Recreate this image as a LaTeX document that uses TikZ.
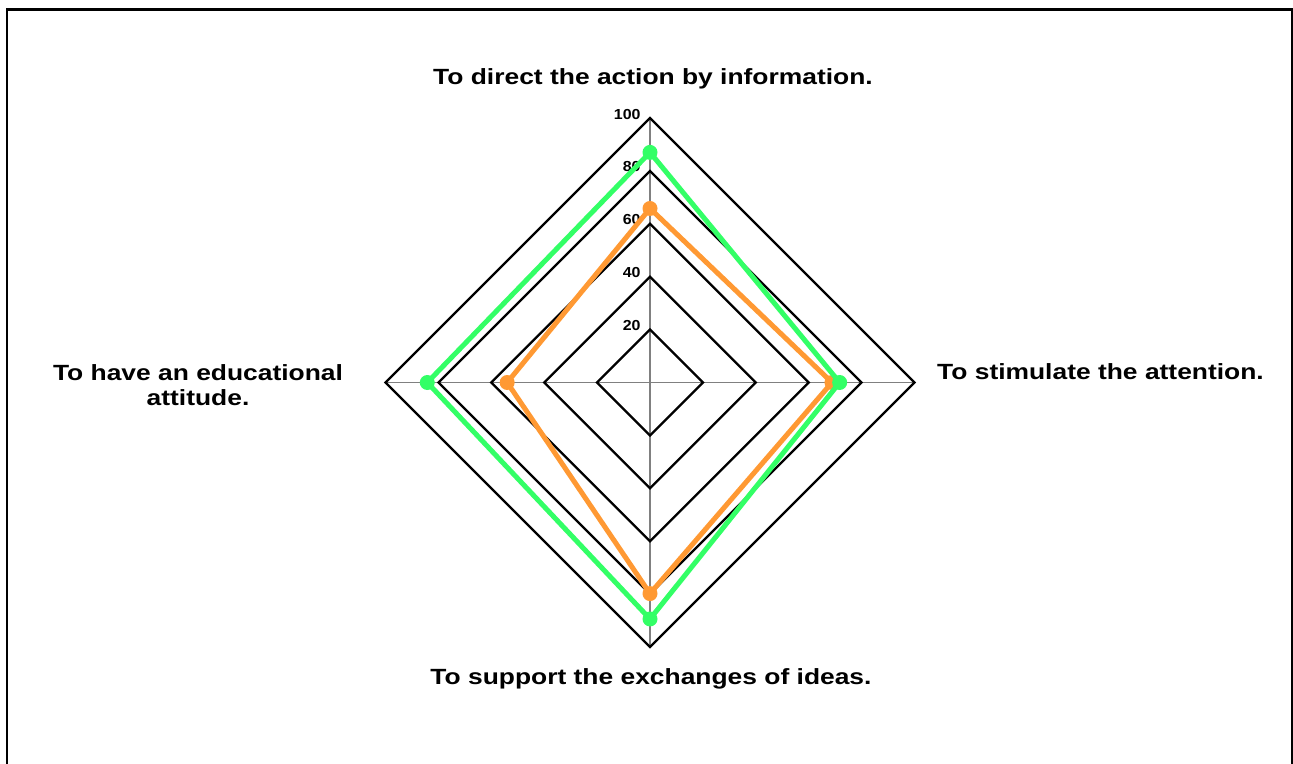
\documentclass[tikz,border=0pt]{standalone}
\usepackage{fontspec}
\setmainfont{Liberation Sans}
\newfontfamily\catfont{Liberation Sans}[FakeStretch=1.2]
\newfontfamily\tickfont{Liberation Sans}[FakeStretch=1.1]
\usetikzlibrary{positioning}
\definecolor{grid_gray}{RGB}{128,128,128}
\definecolor{series_green}{RGB}{51,255,102}
\definecolor{series_orange}{RGB}{255,153,51}

\begin{document}
\begin{tikzpicture}[x=1pt,y=-1pt]
    \tikzstyle{cat}=[font=\catfont\bfseries\fontsize{22}{25}\selectfont, align=center, inner sep=0pt, text=black]
    \tikzstyle{tick}=[font=\tickfont\bfseries\fontsize{14.5}{16}\selectfont, inner sep=0pt, anchor=base east]
    \tikzstyle{ring}=[draw=black, line width=2.3pt, line join=miter]
    \tikzstyle{spoke}=[draw=grid_gray, line width=1.4pt]
    \tikzstyle{series}=[line width=5pt, line join=round]
    \tikzstyle{dot}=[circle, inner sep=0pt, minimum size=15pt]

    \useasboundingbox (0,0) rectangle (1293,763);
    \draw[line width=2.6pt] (7,9.5) rectangle (1292,775);

    \begin{scope}[shift={(650,382.5)}, x=2.645pt, y=2.645pt]
      \coordinate (c) at (0,0);
      \coordinate (top)    at (0,100);
      \coordinate (right)  at (100,0);
      \coordinate (bottom) at (0,-100);
      \coordinate (left)   at (-100,0);

      % spokes
      \foreach \v in {top,right,bottom,left}
        \draw[spoke] (c) -- (\v);

      % rings 20..100
      \foreach \l in {20,40,60,80,100} {
        \draw[ring] (0,\l) -- (\l,0) -- (0,-\l) -- (-\l,0) -- cycle;
        \node[tick] (t\l) at (-3.5,\l-0.4) {\l};
      }

      % data
      \coordinate (g1) at (0,87);   \coordinate (g2) at (71.7,0);
      \coordinate (g3) at (0,-89.4);\coordinate (g4) at (-84.2,0);
      \coordinate (o1) at (0,65.8); \coordinate (o2) at (68.8,0);
      \coordinate (o3) at (0,-79.8);\coordinate (o4) at (-54,0);

      \draw[series, series_orange] (o1) -- (o2) -- (o3) -- (o4) -- cycle;
      \foreach \p in {o1,o2,o3,o4}
        \node[dot, fill=series_orange] at (\p) {};
      \draw[series, series_green]  (g1) -- (g2) -- (g3) -- (g4) -- cycle;
      \foreach \p in {g1,g2,g3,g4}
        \node[dot, fill=series_green] at (\p) {};
    \end{scope}

    \node[cat, anchor=base]      (lab_top)    at (653,84)  {To direct the action by information.};
    \node[cat, anchor=base west] (lab_right)  at (937,379) {To stimulate the attention.};
    \node[cat, anchor=base]      (lab_bottom) at (651,684) {To support the exchanges of ideas.};
    \node[cat, anchor=north]     (lab_left)   at (198,364) {To have an educational\\attitude.};
\end{tikzpicture}
\end{document}
